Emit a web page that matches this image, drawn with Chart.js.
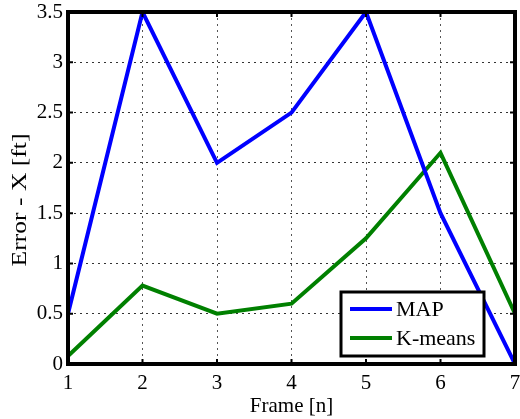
<!DOCTYPE html>
<html>
<head>
<meta charset="utf-8">
<script src="https://cdn.jsdelivr.net/npm/chart.js@4/dist/chart.umd.min.js"></script>
<style>
  html, body { margin: 0; padding: 0; background: #fff; }
  #wrap { width: 520px; height: 419px; }
</style>
</head>
<body>
<div id="wrap"><canvas id="errChart" width="520" height="419"></canvas></div>
<script>
const frames = [1, 2, 3, 4, 5, 6, 7];
const mapErr = [0.5, 3.5, 2.0, 2.5, 3.5, 1.5, 0.0];
const kmeansErr = [0.08, 0.78, 0.5, 0.6, 1.25, 2.1, 0.5];
const yTicks = [0, 0.5, 1, 1.5, 2, 2.5, 3, 3.5];
const yTitle = 'Error - X [ft]';

const serif = "'Liberation Serif', 'Times New Roman', serif";

// frame, inward tick marks, y title and legend box, MATLAB style
const matlabDecor = {
    id: 'matlabDecor',
    afterDraw(chart) {
        const ctx = chart.ctx;
        const a = chart.chartArea;
        const xs = chart.scales.x, ys = chart.scales.y;
        ctx.save();
        ctx.strokeStyle = '#000';
        ctx.lineWidth = 2;
        frames.forEach(f => {
            const px = xs.getPixelForValue(f);
            ctx.beginPath();
            ctx.moveTo(px, a.bottom); ctx.lineTo(px, a.bottom - 5);
            ctx.moveTo(px, a.top); ctx.lineTo(px, a.top + 5);
            ctx.stroke();
        });
        yTicks.forEach(v => {
            const py = ys.getPixelForValue(v);
            ctx.beginPath();
            ctx.moveTo(a.left, py); ctx.lineTo(a.left + 5, py);
            ctx.moveTo(a.right, py); ctx.lineTo(a.right - 5, py);
            ctx.stroke();
        });
        ctx.lineWidth = 4;
        ctx.strokeRect(a.left, a.top, a.right - a.left, a.bottom - a.top);

        // y title (stretched a bit, like the exported figure)
        ctx.save();
        ctx.translate(20, 200);
        ctx.rotate(-Math.PI / 2);
        ctx.scale(1.22, 1);
        ctx.fillStyle = '#000';
        ctx.font = '21px ' + serif;
        ctx.textAlign = 'center';
        ctx.textBaseline = 'middle';
        ctx.fillText(yTitle, 0, 0);
        ctx.restore();

        // legend
        const lx = 341, ly = 292, lw = 143, lh = 64;
        ctx.fillStyle = '#fff';
        ctx.fillRect(lx, ly, lw, lh);
        ctx.strokeStyle = '#000';
        ctx.lineWidth = 3;
        ctx.strokeRect(lx, ly, lw, lh);
        ctx.font = '22px ' + serif;
        ctx.textBaseline = 'middle';
        chart.data.datasets.forEach((ds, i) => {
            const y = ly + 17 + i * 29;
            ctx.strokeStyle = ds.borderColor;
            ctx.lineWidth = 4;
            ctx.beginPath();
            ctx.moveTo(lx + 9, y); ctx.lineTo(lx + 51, y);
            ctx.stroke();
            ctx.fillStyle = '#000';
            ctx.fillText(ds.label, lx + 55, y + 1);
        });
        ctx.restore();
    }
};

const ctx = document.getElementById('errChart').getContext('2d');
new Chart(ctx, {
    type: 'line',
    data: {
        datasets: [
            {
                label: 'MAP',
                data: frames.map((f, i) => ({ x: f, y: mapErr[i] })),
                borderColor: '#0000ff',
                borderWidth: 4,
                pointRadius: 0,
                tension: 0
            },
            {
                label: 'K-means',
                data: frames.map((f, i) => ({ x: f, y: kmeansErr[i] })),
                borderColor: '#008000',
                borderWidth: 4,
                pointRadius: 0,
                tension: 0
            }
        ]
    },
    options: {
        responsive: false,
        animation: false,
        layout: { padding: 0 },
        plugins: {
            legend: { display: false },
            tooltip: { enabled: false }
        },
        scales: {
            x: {
                type: 'linear',
                min: 1,
                max: 7,
                afterFit: s => { s.height = 55; s.paddingRight = 5; s.paddingLeft = 0; },
                afterBuildTicks: s => { s.ticks = frames.map(v => ({ value: v })); },
                grid: { color: '#555', lineWidth: 1, drawTicks: false },
                border: { display: false, dash: [2, 4] },
                ticks: {
                    color: '#000',
                    padding: 7,
                    font: { family: serif, size: 21 }
                },
                title: {
                    display: true,
                    text: 'Frame [n]',
                    color: '#000',
                    padding: { top: 0, bottom: 0 },
                    font: { family: serif, size: 21 }
                }
            },
            y: {
                min: 0,
                max: 3.5,
                afterFit: s => { s.width = 68; s.paddingTop = 12; s.paddingBottom = 0; },
                afterBuildTicks: s => { s.ticks = yTicks.map(v => ({ value: v })); },
                grid: { color: '#333', lineWidth: 1, drawTicks: false },
                border: { display: false, dash: [2, 4] },
                ticks: {
                    color: '#000',
                    padding: 5,
                    font: { family: serif, size: 21 },
                    callback: v => String(v)
                }
            }
        }
    },
    plugins: [matlabDecor]
});
</script>
</body>
</html>
